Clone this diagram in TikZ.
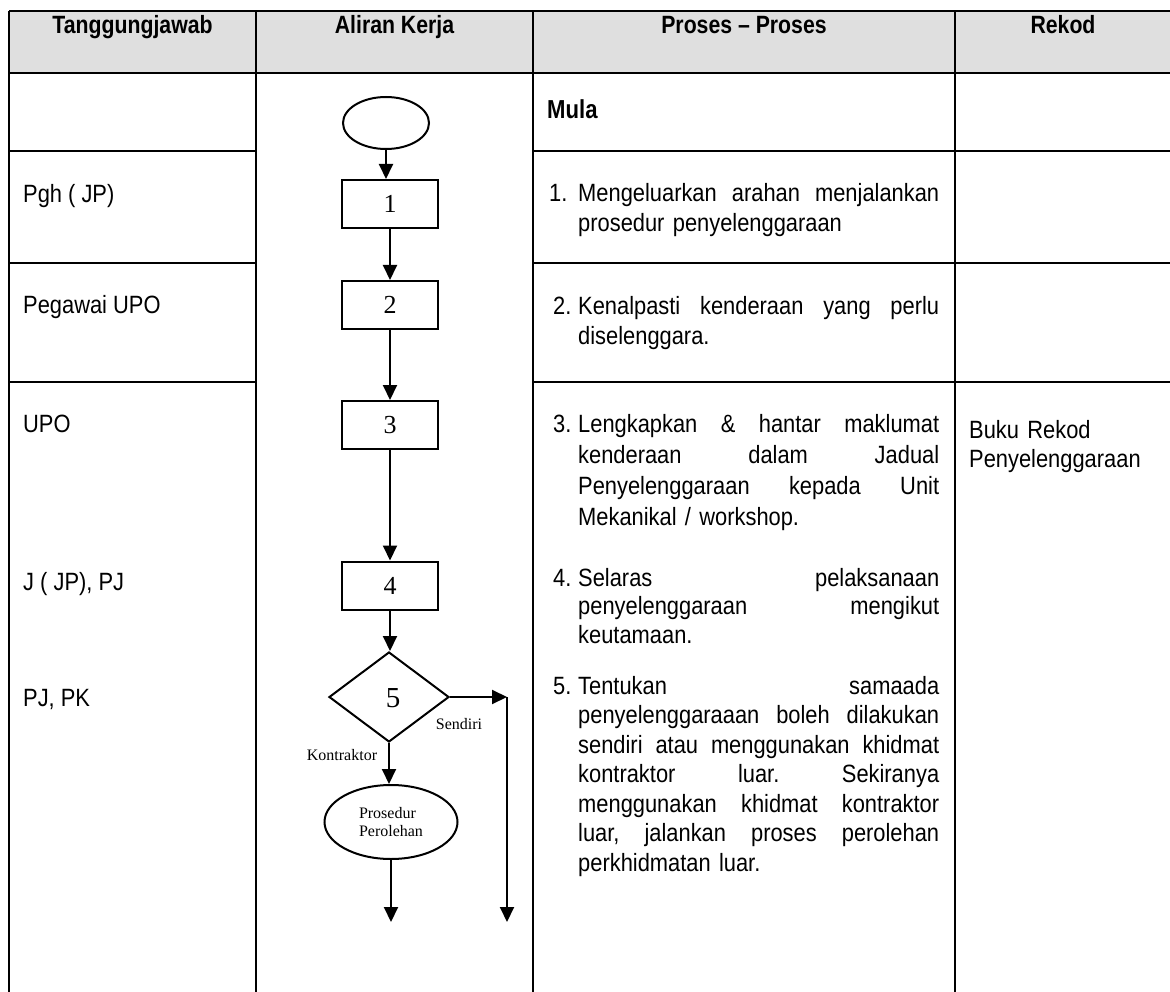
\documentclass[tikz,border=0pt]{standalone}
\usepackage{fontspec}
\setmainfont{Liberation Sans}
\newfontfamily\hdrf[FakeStretch=0.85]{Liberation Sans}
\newfontfamily\bodyf[FakeStretch=0.875]{Liberation Sans}
\newfontfamily\serf{Liberation Serif}
\usetikzlibrary{arrows.meta,shapes.geometric}
\definecolor{hdrgray}{RGB}{223,223,223}
\newcommand{\jl}[1]{\leavevmode\hbox to 361pt{#1}}
\begin{document}
\begin{tikzpicture}[x=1pt,y=-1pt,
  tline/.style={line width=2.2pt},
  fline/.style={line width=2pt},
  arr/.style={fline,-{Triangle[length=15pt,width=14pt]}},
  hdr/.style={font=\hdrf\bfseries\fontsize{25}{29}\selectfont, anchor=base, inner sep=0},
  body/.style={font=\bodyf\fontsize{25}{29.5}\selectfont, anchor=base west, inner sep=0},
  para/.style={body, text width=361pt, align=left},
  stepbox/.style={draw, fline, minimum width=96pt, minimum height=48pt, inner sep=0, font=\serf\fontsize{26}{26}\selectfont},
  flab/.style={font=\serf\fontsize{16}{18.3}\selectfont, inner sep=0}
]
\useasboundingbox (0,0) rectangle (1170,992);
\fill[white] (0,0) rectangle (1170,992);
% header
\fill[hdrgray] (9,11) rectangle (1170,73);
\draw[tline] (9,11) -- (1170,11);
\draw[tline] (9,73) -- (1170,73);
\foreach \yy in {151,263,382}{
  \draw[tline] (9,\yy) -- (256,\yy);
  \draw[tline] (533,\yy) -- (1170,\yy);
}
\foreach \xx in {9,256,533,955}{
  \draw[tline] (\xx,11) -- (\xx,992);
}
\node[hdr] (h1) at (132.5,33.5) {Tanggungjawab};
\node[hdr] (h2) at (394.5,33.5) {Aliran Kerja};
\node[hdr] (h3) at (744,33.5) {Proses – Proses};
\node[hdr] (h4) at (1063,33.5) {Rekod};
\node[hdr, anchor=base west, font=\hdrf\bfseries\fontsize{26}{29}\selectfont] (mula) at (547,119) {Mula};
% left column
\node[body] (t1) at (23,203) {Pgh ( JP)};
\node[body] (t2) at (23,314) {Pegawai UPO};
\node[body] (t3) at (23,432) {UPO};
\node[body] (t4) at (23,590) {J ( JP), PJ};
\node[body] (t5) at (23,706) {PJ, PK};
% process column
\node[body] (n1) at (549,201.7) {1.};
\node[para] (p1) at (578,201.7) {\jl{Mengeluarkan\hfill arahan\hfill menjalankan}\\prosedur penyelenggaraan};
\node[body] (n2) at (553,315) {2.};
\node[para] (p2) at (578,315) {\jl{Kenalpasti\hfill kenderaan\hfill yang\hfill perlu}\\diselenggara.};
\node[body] (n3) at (553,432) {3.};
\node[para, font=\bodyf\fontsize{25}{31}\selectfont] (p3) at (578,432) {\jl{Lengkapkan\hfill \&\hfill hantar\hfill maklumat}\\\jl{kenderaan\hfill dalam\hfill Jadual}\\\jl{Penyelenggaraan\hfill kepada\hfill Unit}\\Mekanikal / workshop.};
\node[body] (n4) at (553,586) {4.};
\node[para, font=\bodyf\fontsize{25}{28.7}\selectfont] (p4) at (578,586) {\jl{Selaras\hfill pelaksanaan}\\\jl{penyelenggaraan\hfill mengikut}\\keutamaan.};
\node[body] (n5) at (553,694) {5.};
\node[para] (p5) at (578,694) {\jl{Tentukan\hfill samaada}\\\jl{penyelenggaraaan\hfill boleh\hfill dilakukan}\\\jl{sendiri\hfill atau\hfill menggunakan\hfill khidmat}\\\jl{kontraktor\hfill luar.\hfill Sekiranya}\\\jl{menggunakan\hfill khidmat\hfill kontraktor}\\\jl{luar,\hfill jalankan\hfill proses\hfill perolehan}\\perkhidmatan luar.};
% record column
\node[body, text width=200pt, align=left] (rk) at (969,438) {Buku Rekod\\Penyelenggaraan};
% flowchart
\node[draw, fline, ellipse, minimum width=86pt, minimum height=52pt, inner sep=0] (start) at (386,123) {};
\node[stepbox] (b1) at (390,204) {1};
\node[stepbox] (b2) at (390,305) {2};
\node[stepbox] (b3) at (390,425) {3};
\node[stepbox] (b4) at (390,585.5) {4};
\node[draw, fline, diamond, minimum width=120pt, minimum height=90pt, inner sep=0] (d5) at (389,697) {};
\node[font=\serf\fontsize{29}{29}\selectfont, inner sep=0] (l5) at (393,698) {5};
\node[draw, fline, ellipse, minimum width=133pt, minimum height=74pt, inner sep=0, align=left, font=\serf\fontsize{16}{18.3}\selectfont] (pp) at (391,822) {Prosedur\\Perolehan};
\coordinate (r1) at (507,697);
\coordinate (r2) at (507,922);
\coordinate (e1) at (391,922);
\draw[arr] (start.south) -- (start.south |- b1.north);
\draw[arr] (b1) -- (b2);
\draw[arr] (b2) -- (b3);
\draw[arr] (b3) -- (b4);
\draw[arr] (b4.south) -- (b4.south |- d5.north);
\draw[arr] (d5.south) -- (d5.south |- pp.north);
\draw[arr] (d5.east) -- (r1);
\draw[arr] (r1) -- (r2);
\draw[arr] (pp.south) -- (e1);
\node[flab] (sendiri) at (459,724) {Sendiri};
\node[flab] (kontr) at (342,755) {Kontraktor};
\end{tikzpicture}
\end{document}
